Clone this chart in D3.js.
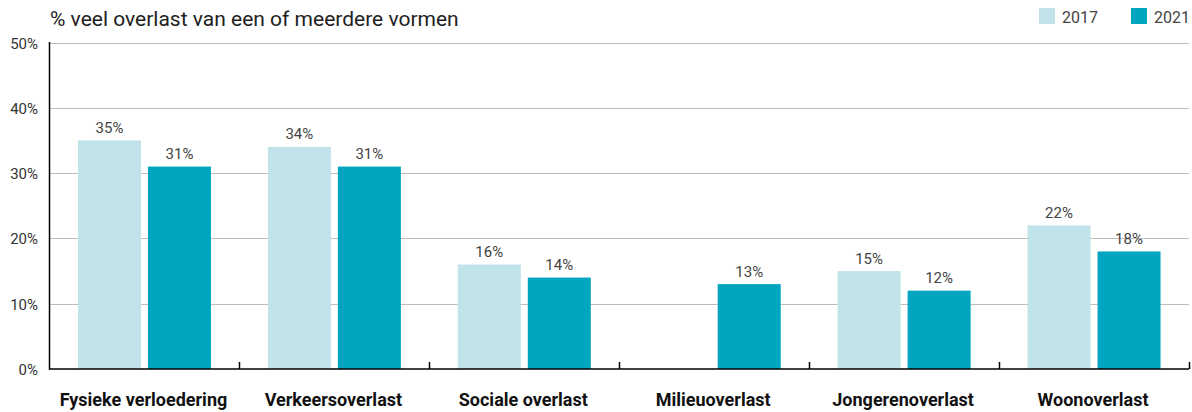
<!DOCTYPE html>
<html>
<head>
<meta charset="utf-8">
<script src="https://cdn.jsdelivr.net/npm/d3@7"></script>
<style>
  body { margin: 0; background: #fff; }
  svg { display: block; font-family: Roboto, "Noto Sans", sans-serif; }
</style>
</head>
<body>
<svg id="chart" width="1192" height="412"></svg>
<script>
// data
const categories = ["Fysieke verloedering", "Verkeersoverlast", "Sociale overlast", "Milieuoverlast", "Jongerenoverlast", "Woonoverlast"];
const years = ["2017", "2021"];
const values2017 = [35, 34, 16, null, 15, 22];
const values2021 = [31, 31, 14, 13, 12, 18];
const yTicks = [0, 10, 20, 30, 40, 50];
const colors = ["#c0e3e9", "#00a6c0"];

const svg = d3.select("#chart");
const margin = { left: 49.5, right: 3, top: 42.5, bottom: 43 };
const W = 1192, H = 412;

const x0 = d3.scaleBand()
    .domain(categories)
    .range([margin.left, W - margin.right]);

// two bars of 63px with a 7px gap, centred in each band
const x1 = d3.scaleBand()
    .domain(years)
    .range([0, 133])
    .paddingInner(0.1);
const barOffset = (x0.bandwidth() - 133) / 2;

const y = d3.scaleLinear()
    .domain([0, 50])
    .range([H - margin.bottom, margin.top]);

// gridlines
svg.append("g")
    .selectAll("line")
    .data(yTicks.filter(t => t > 0))
    .enter()
    .append("line")
    .attr("x1", margin.left)
    .attr("x2", W - margin.right)
    .attr("y1", d => Math.round(y(d)) + 0.5)
    .attr("y2", d => Math.round(y(d)) + 0.5)
    .attr("stroke", "#bdbdbd")
    .attr("stroke-width", 1.2);

// y tick labels
svg.append("g")
    .selectAll("text")
    .data(yTicks)
    .enter()
    .append("text")
    .attr("x", 38)
    .attr("y", d => y(d))
    .attr("dy", "0.4em")
    .attr("text-anchor", "end")
    .attr("font-size", "15px")
    .attr("fill", "#333")
    .text(d => d + "%");

// bars
const series = [values2017, values2021];
series.forEach((vals, s) => {
    const g = svg.append("g");
    const rows = categories.map((c, i) => ({ cat: c, v: vals[i] })).filter(d => d.v != null);

    g.selectAll("rect")
        .data(rows)
        .enter()
        .append("rect")
        .attr("x", d => x0(d.cat) + barOffset + x1(years[s]))
        .attr("y", d => y(d.v))
        .attr("width", x1.bandwidth())
        .attr("height", d => y(0) - y(d.v))
        .attr("fill", colors[s]);

    g.selectAll("text")
        .data(rows)
        .enter()
        .append("text")
        .attr("x", d => x0(d.cat) + barOffset + x1(years[s]) + x1.bandwidth() / 2)
        .attr("y", d => y(d.v) - 7.5)
        .attr("text-anchor", "middle")
        .attr("font-size", "15px")
        .attr("fill", "#444")
        .text(d => d.v + "%");
});

// axes
svg.append("line")
    .attr("x1", margin.left).attr("x2", margin.left)
    .attr("y1", y(50) - 0.5).attr("y2", y(0) + 0.75)
    .attr("stroke", "#000").attr("stroke-width", 1.5);

svg.append("line")
    .attr("x1", margin.left).attr("x2", W - margin.right)
    .attr("y1", y(0)).attr("y2", y(0))
    .attr("stroke", "#000").attr("stroke-width", 1.5);

// small ticks between categories, pointing up
const tickXs = categories.map(c => x0(c) + x0.bandwidth());
svg.append("g")
    .selectAll("line")
    .data(tickXs)
    .enter()
    .append("line")
    .attr("x1", d => Math.round(d) + 0.5)
    .attr("x2", d => Math.round(d) + 0.5)
    .attr("y1", y(0))
    .attr("y2", y(0) - 7)
    .attr("stroke", "#000")
    .attr("stroke-width", 1.5);

// category labels
svg.append("g")
    .selectAll("text")
    .data(categories)
    .enter()
    .append("text")
    .attr("x", d => x0(d) + x0.bandwidth() / 2 - 1)
    .attr("y", 406)
    .attr("text-anchor", "middle")
    .attr("font-size", "18px")
    .attr("font-weight", "bold")
    .attr("fill", "#111")
    .text(d => d);

// title
svg.append("text")
    .attr("x", 50)
    .attr("y", 26)
    .attr("font-size", "21px")
    .attr("fill", "#222")
    .text("% veel overlast van een of meerdere vormen");

// legend
const legendX = [1039, 1131];
years.forEach((yr, i) => {
    svg.append("rect")
        .attr("x", legendX[i])
        .attr("y", 8)
        .attr("width", 16)
        .attr("height", 16)
        .attr("fill", colors[i]);
    svg.append("text")
        .attr("x", legendX[i] + 23)
        .attr("y", 23)
        .attr("font-size", "16px")
        .attr("fill", "#444")
        .text(yr);
});
</script>
</body>
</html>
